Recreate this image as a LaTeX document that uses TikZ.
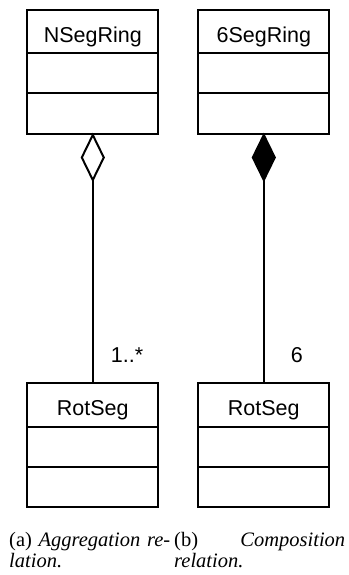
\documentclass[tikz,border=0pt]{standalone}
\usepackage{fontspec}
\setmainfont{Liberation Serif}
\newfontfamily\umlfont{Liberation Sans}
\usetikzlibrary{shapes.geometric}

\begin{document}
\begin{tikzpicture}[x=1pt, y=-1pt,
  classbox/.style={draw, line width=2pt, minimum width=131pt, minimum height=123.5pt,
    inner sep=0pt, anchor=north west},
  divider/.style={line width=2pt},
  classname/.style={anchor=base, inner sep=0pt,
    font=\umlfont\fontsize{21.5}{26}\selectfont},
  mult/.style={anchor=base west, inner sep=0pt,
    font=\umlfont\fontsize{21.5}{26}\selectfont},
  relation/.style={line width=2pt},
  whole end/.style={diamond, draw, line width=2pt, inner sep=0pt, outer sep=0pt,
    minimum width=22pt, minimum height=45pt, anchor=north},
  aggregation/.style={whole end, fill=white},
  composition/.style={whole end, fill=black},
  caption/.style={anchor=base west, inner sep=0pt,
    font=\fontsize{20.5}{24}\selectfont}
]
\useasboundingbox (0,0) rectangle (348,575);

% (a) aggregation
\node[classbox] (nring) at (26.3,9.5) {};
\node[classname] (nringname) at (nring.north |- 0,42.8) {NSegRing};
\draw[divider] (nring.west |- 0,53.3) -- (nring.east |- 0,53.3);
\draw[divider] (nring.west |- 0,93.3) -- (nring.east |- 0,93.3);

\node[classbox] (rseg a) at (26.3,382) {};
\node[classname] (rseg a name) at (rseg a.north |- 0,415.5) {RotSeg};
\draw[divider] (rseg a.west |- 0,427) -- (rseg a.east |- 0,427);
\draw[divider] (rseg a.west |- 0,466.5) -- (rseg a.east |- 0,466.5);

\node[aggregation] (agg) at (nring.south) {};
\draw[relation] (rseg a.north) -- (agg.south);
\node[mult] (mult a) at (110.7,362.5) {1..*};

% (b) composition
\node[classbox] (sring) at (197.3,9.5) {};
\node[classname] (sringname) at (sring.north |- 0,42.8) {6SegRing};
\draw[divider] (sring.west |- 0,53.3) -- (sring.east |- 0,53.3);
\draw[divider] (sring.west |- 0,93.3) -- (sring.east |- 0,93.3);

\node[classbox] (rseg b) at (197.3,382) {};
\node[classname] (rseg b name) at (rseg b.north |- 0,415.5) {RotSeg};
\draw[divider] (rseg b.west |- 0,427) -- (rseg b.east |- 0,427);
\draw[divider] (rseg b.west |- 0,466.5) -- (rseg b.east |- 0,466.5);

\node[composition] (comp) at (sring.south) {};
\draw[relation] (rseg b.north) -- (comp.south);
\node[mult] (mult b) at (290.7,362.5) {6};

% sub-captions
\node[caption] (cap a1) at (9,546) {\makebox[161pt][s]{(a) \textit{Aggregation re-}}};
\node[caption] (cap a2) at (9,567.5) {\textit{lation.}};
\node[caption] (cap b1) at (174,546) {\makebox[171pt][l]{(b)\hfill\textit{Composition}}};
\node[caption] (cap b2) at (174,567.5) {\textit{relation.}};
\end{tikzpicture}
\end{document}
